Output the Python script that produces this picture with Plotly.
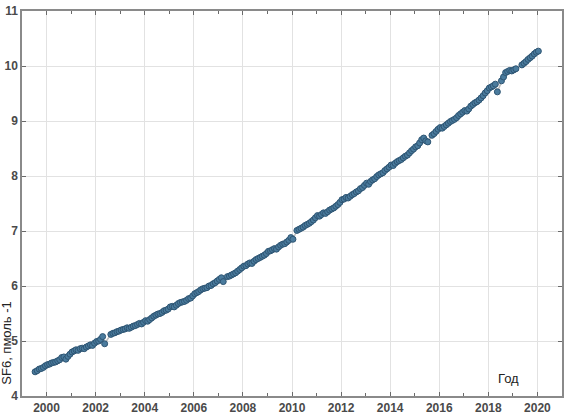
import pandas as pd
import plotly.graph_objects as go

# Monthly SF6 mole fraction values (Jan..Dec), None = missing month
sf6_1999 = [4.44, 4.46, 4.49, 4.50, 4.52, 4.55]  # Jul..Dec
sf6_2000 = [4.57, 4.58, 4.60, 4.61, 4.62, 4.64, 4.66, 4.70, 4.71, 4.67, 4.72, 4.76]
sf6_2001 = [4.80, 4.82, 4.84, 4.83, 4.86, 4.87, 4.86, 4.89, 4.91, 4.93, 4.92, 4.96]
sf6_2002 = [4.99, 5.00, 5.03, 5.08, 4.95, None, None, 5.12, 5.14, 5.15, 5.17, 5.18]
sf6_2003 = [5.20, 5.21, 5.22, 5.24, 5.23, 5.25, 5.27, 5.28, 5.30, 5.32, 5.31, 5.34]
sf6_2004 = [5.37, 5.36, 5.39, 5.42, 5.45, 5.47, 5.49, 5.50, 5.52, 5.55, 5.56, 5.58]
sf6_2005 = [5.62, 5.63, 5.62, 5.65, 5.68, 5.70, 5.71, 5.72, 5.74, 5.77, 5.78, 5.82]
sf6_2006 = [5.86, 5.88, 5.90, 5.93, 5.95, 5.96, 5.97, 6.00, 6.01, 6.04, 6.06, 6.09]
sf6_2007 = [6.12, 6.15, 6.08, None, 6.17, 6.18, 6.20, 6.22, 6.24, 6.27, 6.30, 6.33]
sf6_2008 = [6.36, 6.37, 6.40, 6.42, 6.41, 6.45, 6.48, 6.50, 6.52, 6.54, 6.56, 6.59]
sf6_2009 = [6.63, 6.64, 6.66, 6.68, 6.67, 6.71, 6.74, 6.76, 6.77, 6.80, 6.83, 6.88]
sf6_2010 = [6.85, None, 7.01, 7.03, 7.05, 7.07, 7.10, 7.12, 7.14, 7.17, 7.20, 7.24]
sf6_2011 = [7.28, 7.27, 7.30, 7.33, 7.32, 7.35, 7.38, 7.40, 7.42, 7.45, 7.48, 7.52]
sf6_2012 = [7.57, 7.58, 7.61, 7.60, 7.63, 7.66, 7.68, 7.71, 7.73, 7.77, 7.79, 7.83]
sf6_2013 = [7.87, 7.85, 7.90, 7.93, 7.95, 7.99, 8.02, 8.04, 8.06, 8.10, 8.13, 8.16]
sf6_2014 = [8.20, 8.19, 8.23, 8.26, 8.28, 8.30, 8.33, 8.36, 8.38, 8.42, 8.46, 8.49]
sf6_2015 = [8.53, 8.55, 8.60, 8.66, 8.69, 8.64, 8.62, None, 8.74, 8.77, 8.81, 8.85]
sf6_2016 = [8.88, 8.87, 8.90, 8.93, 8.96, 8.99, 9.01, 9.03, 9.06, 9.10, 9.13, 9.16]
sf6_2017 = [9.19, 9.18, 9.22, 9.27, 9.30, 9.33, 9.35, 9.38, 9.42, 9.46, 9.51, 9.55]
sf6_2018 = [9.60, 9.62, 9.64, 9.67, 9.53, None, 9.73, 9.80, 9.88, 9.90, 9.92, 9.91]
sf6_2019 = [9.93, 9.95, None, None, 10.02, 10.05, 10.08, 10.12, 10.15, 10.18, 10.22, 10.25]
sf6_2020 = [10.27]  # Jan

sf6 = (sf6_1999 + sf6_2000 + sf6_2001 + sf6_2002 + sf6_2003 + sf6_2004 + sf6_2005
       + sf6_2006 + sf6_2007 + sf6_2008 + sf6_2009 + sf6_2010 + sf6_2011 + sf6_2012
       + sf6_2013 + sf6_2014 + sf6_2015 + sf6_2016 + sf6_2017 + sf6_2018 + sf6_2019
       + sf6_2020)
dates = pd.date_range(start="1999-07-01", periods=len(sf6), freq="MS") + pd.Timedelta(days=14)

x_tick_years = [str(y) for y in range(2000, 2021, 2)]
y_ticks = [4, 5, 6, 7, 8, 9, 10, 11]

fig = go.Figure()
fig.add_trace(go.Scatter(
    x=dates, y=sf6, mode="lines+markers", connectgaps=True,
    line=dict(color="#bdbdbd", width=1.5),
    marker=dict(size=6, color="#4a7b9d", line=dict(color="#2e5573", width=1)),
    showlegend=False, hoverinfo="skip",
))

axis_common = dict(
    showline=True, linecolor="#8a8a8a", linewidth=1.5, mirror="ticks",
    showgrid=True, gridcolor="#e2e2e2", gridwidth=1,
    ticks="inside", ticklen=4, tickcolor="#6a6a6a", zeroline=False,
    automargin=False,
    tickfont=dict(family="Liberation Sans", size=12, color="#4a4a4a", weight="bold"),
)

fig.update_xaxes(
    type="date",
    range=["1999-01-01", "2021-01-01"],
    tickvals=[f"{y}-01-01" for y in x_tick_years],
    ticktext=x_tick_years,
    minor=dict(ticks="inside", ticklen=3, tickcolor="#6a6a6a", dtick="M12", showgrid=False),
    ticklabelstandoff=0,
    **axis_common,
)
fig.update_yaxes(
    range=[4, 11],
    tickvals=y_ticks,
    ticktext=[str(v) for v in y_ticks],
    ticklabelstandoff=0,
    **axis_common,
)

fig.add_annotation(
    text="SF6, пмоль -1", xref="paper", yref="paper", x=-0.029, y=0.025,
    xanchor="center", yanchor="bottom", textangle=-90, showarrow=False,
    font=dict(family="Liberation Sans", size=13, color="#222"),
)
fig.add_annotation(
    text="Год", xref="paper", yref="paper", x=0.9, y=0.02,
    xanchor="center", yanchor="bottom", showarrow=False,
    font=dict(family="Liberation Sans", size=13, color="#222"),
)

fig.update_layout(
    width=567, height=415,
    margin=dict(l=22, r=5, t=11, b=19),
    plot_bgcolor="white", paper_bgcolor="white",
)

fig.write_html("out.html", config={"displayModeBar": False},
               post_script="document.body.style.margin='0';")
